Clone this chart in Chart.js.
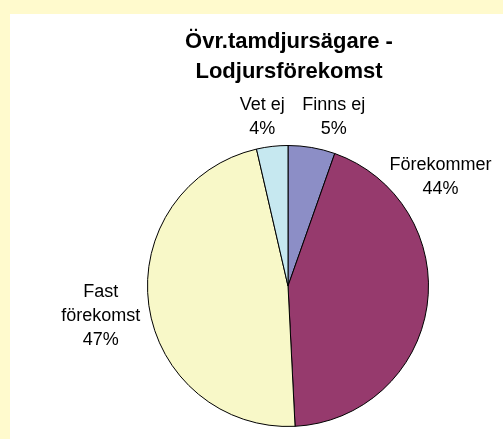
<!DOCTYPE html>
<html>
<head>
<meta charset="utf-8">
<script src="https://cdn.jsdelivr.net/npm/chart.js@4/dist/chart.umd.min.js"></script>
<style>
  html, body { margin: 0; padding: 0; background: #FFFACD; }
  canvas { display: block; }
</style>
</head>
<body>
<canvas id="c" width="503" height="439"></canvas>
<script>
const titleLines = ['Övr.tamdjursägare -', 'Lodjursförekomst'];
const categories = ['Finns ej', 'Förekommer', 'Fast förekomst', 'Vet ej'];
const values = [5.4, 43.8, 47.2, 3.6];
const colors = ['#8C8EC6', '#963A6D', '#F8F8C8', '#C6E8F0'];

// label anchor offsets, in units of the pie radius (layout only)
const labelOffsets = [[0.326, -1.206], [1.085, -0.773], [-1.333, 0.213], [-0.184, -1.206]];

const bgPlugin = {
  id: 'bg',
  beforeDraw(chart) {
    const ctx = chart.ctx;
    ctx.save();
    ctx.fillStyle = '#FFFACD';
    ctx.fillRect(0, 0, chart.width, chart.height);
    ctx.fillStyle = '#FFFFFF';
    ctx.fillRect(10, 14, chart.width - 10, chart.height - 14);
    ctx.restore();
  }
};

const labelPlugin = {
  id: 'labels',
  afterDraw(chart) {
    const ctx = chart.ctx;
    const meta = chart.getDatasetMeta(0);
    const data = chart.data.datasets[0].data;
    const total = data.reduce((a, b) => a + b, 0);
    const arc0 = meta.data[0];
    const cx = arc0.x, cy = arc0.y, r = arc0.outerRadius;
    ctx.save();
    // title
    ctx.fillStyle = '#000';
    ctx.textAlign = 'center';
    ctx.textBaseline = 'middle';
    ctx.font = 'bold 22px "Liberation Sans", Arial, sans-serif';
    titleLines.forEach((t, i) => ctx.fillText(t, cx + 1, 42 + i * 30));
    // slice labels
    ctx.font = '18px "Liberation Sans", Arial, sans-serif';
    chart.data.labels.forEach((lab, i) => {
      const words = lab.split(' ');
      let lines = [lab];
      if (ctx.measureText(lab).width > 110 && words.length > 1) {
        lines = [];
        let cur = '';
        words.forEach(w => {
          const test = cur ? cur + ' ' + w : w;
          if (cur && ctx.measureText(test).width > 110) { lines.push(cur); cur = w; }
          else cur = test;
        });
        if (cur) lines.push(cur);
      }
      lines.push(Math.round(data[i] / total * 100) + '%');
      const lh = 24;
      const ax = cx + labelOffsets[i][0] * r;
      const ay = cy + labelOffsets[i][1] * r;
      const y0 = ay - (lines.length - 1) * lh / 2;
      lines.forEach((ln, j) => ctx.fillText(ln, ax, y0 + j * lh));
    });
    ctx.restore();
  }
};

new Chart(document.getElementById('c'), {
  type: 'pie',
  data: {
    labels: categories,
    datasets: [{
      data: values,
      backgroundColor: colors,
      borderColor: '#000000',
      borderWidth: 1
    }]
  },
  options: {
    responsive: false,
    animation: false,
    layout: { padding: { left: 147, right: 74, top: 145, bottom: 12 } },
    plugins: {
      legend: { display: false },
      tooltip: { enabled: false },
      title: { display: false }
    }
  },
  plugins: [bgPlugin, labelPlugin]
});
</script>
</body>
</html>
